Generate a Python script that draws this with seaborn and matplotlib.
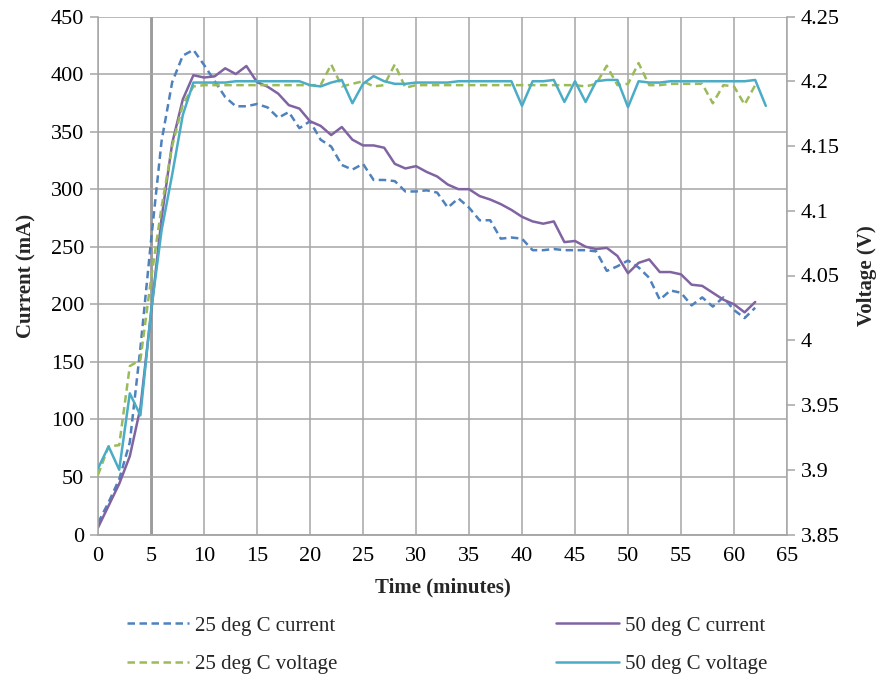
import matplotlib
matplotlib.use("Agg")
import matplotlib.pyplot as plt
import matplotlib.ticker as mticker
import seaborn as sns
import pandas as pd

sns.set_style("white")
plt.rcParams['font.family'] = ['Liberation Serif', 'DejaVu Serif']

# time in minutes (one reading per minute)
time_25 = list(range(0, 63))
time_50 = list(range(0, 63))
time_50v = list(range(0, 64))

# current (mA)
cur_25 = [10, 28, 48, 80, 162, 255, 342, 393, 416, 421,
          408, 394, 380, 372, 372, 374, 371, 362, 367, 353,
          359, 343, 337, 321, 317, 322, 308, 308, 307, 298,
          298, 299, 297, 284, 292, 284, 273, 273, 257, 258,
          257, 247, 247, 248, 247, 247, 247, 246, 229, 233,
          238, 232, 223, 204, 212, 210, 199, 206, 198, 206,
          195, 188, 197]
cur_50 = [6, 25, 44, 68, 110, 192, 275, 340, 378, 399,
          397, 398, 405, 400, 407, 393, 389, 383, 373, 370,
          359, 355, 347, 354, 343, 338, 338, 336, 322, 318,
          320, 315, 311, 304, 300, 300, 294, 291, 287, 282,
          276, 272, 270, 272, 254, 255, 250, 248, 249, 242,
          227, 236, 239, 228, 228, 226, 217, 216, 210, 204,
          200, 193, 202]

# voltage (V)
volt_25 = [3.896, 3.918, 3.919, 3.980, 3.985, 4.047, 4.103, 4.150, 4.182, 4.196,
           4.197, 4.197, 4.197, 4.197, 4.197, 4.197, 4.197, 4.197, 4.197, 4.197,
           4.197, 4.197, 4.213, 4.196, 4.198, 4.200, 4.196, 4.197, 4.213, 4.195,
           4.197, 4.197, 4.197, 4.197, 4.197, 4.197, 4.197, 4.197, 4.197, 4.197,
           4.197, 4.197, 4.197, 4.197, 4.197, 4.197, 4.196, 4.198, 4.212, 4.197,
           4.198, 4.214, 4.197, 4.197, 4.198, 4.198, 4.198, 4.198, 4.183, 4.197,
           4.196, 4.182, 4.197]
volt_50 = [3.901, 3.918, 3.900, 3.959, 3.942, 4.022, 4.085, 4.128, 4.174, 4.199,
           4.199, 4.199, 4.199, 4.200, 4.200, 4.200, 4.200, 4.200, 4.200, 4.200,
           4.197, 4.196, 4.199, 4.201, 4.183, 4.198, 4.204, 4.200, 4.198, 4.198,
           4.199, 4.199, 4.199, 4.199, 4.200, 4.200, 4.200, 4.200, 4.200, 4.200,
           4.181, 4.200, 4.200, 4.201, 4.184, 4.200, 4.184, 4.200, 4.201, 4.201,
           4.180, 4.200, 4.199, 4.199, 4.200, 4.200, 4.200, 4.200, 4.200, 4.200,
           4.200, 4.200, 4.201, 4.181]

c_blue = "#4F81BD"
c_purple = "#8064A2"
c_green = "#9BBB59"
c_cyan = "#4BACC6"
grid_c = "#A6A6A6"

fig = plt.figure(figsize=(8.76, 6.79), dpi=100)
ax = fig.add_axes([98 / 876, 1 - 534.5 / 679, (787 - 98) / 876, (534.5 - 16.5) / 679])
ax2 = ax.twinx()

# grid first so lines sit on top
ax.set_xlim(0, 65)
ax.set_ylim(0, 450)
ax.set_xticks(range(0, 66, 5))
ax.set_yticks(range(0, 451, 50))
ax.grid(True, color=grid_c, linewidth=1.1)
ax.set_axisbelow(True)
ax.axvline(5, color="#7F7F7F", linewidth=1.8, zorder=0.5)

df25 = pd.DataFrame({"t": time_25, "i": cur_25, "v": volt_25})
df50 = pd.DataFrame({"t": time_50, "i": cur_50})
df50v = pd.DataFrame({"t": time_50v, "v": volt_50})

sns.lineplot(data=df25, x="t", y="i", ax=ax, color=c_blue, linewidth=1.8,
             linestyle=(0, (3, 1.8)), label="25 deg C current", legend=False)
sns.lineplot(data=df50, x="t", y="i", ax=ax, color=c_purple, linewidth=1.8,
             label="50 deg C current", legend=False)
sns.lineplot(data=df25, x="t", y="v", ax=ax2, color=c_green, linewidth=1.8,
             linestyle=(0, (3, 1.8)), label="25 deg C voltage", legend=False)
sns.lineplot(data=df50v, x="t", y="v", ax=ax2, color=c_cyan, linewidth=1.8,
             label="50 deg C voltage", legend=False)

ax2.set_ylim(3.85, 4.25)
ax2.set_yticks([3.85, 3.9, 3.95, 4.0, 4.05, 4.1, 4.15, 4.2, 4.25])
ax2.yaxis.set_major_formatter(mticker.FormatStrFormatter('%g'))
ax2.grid(False)

for a in (ax, ax2):
    a.spines['top'].set_visible(False)
    for s in a.spines.values():
        s.set_color(grid_c)
        s.set_linewidth(1.1)
    a.tick_params(axis='both', direction='out', length=6, width=1.1,
                  color=grid_c, labelsize=16, labelcolor='black')
ax2.spines['left'].set_visible(False)
ax.spines['right'].set_visible(False)
ax.tick_params(axis='x', length=5, pad=4)
ax.tick_params(axis='y', pad=4)
ax2.tick_params(axis='y', pad=4)

ax.set_xlabel("Time (minutes)", fontsize=15, fontweight='bold', labelpad=8)
ax.set_ylabel("Current (mA)", fontsize=15, fontweight='bold', labelpad=10)
ax2.set_ylabel("Voltage (V)", fontsize=15, fontweight='bold', labelpad=12)

h1, l1 = ax.get_legend_handles_labels()
h2, l2 = ax2.get_legend_handles_labels()
handles = [h1[0], h2[0], h1[1], h2[1]]
labels = [l1[0], l2[0], l1[1], l2[1]]
fig.legend(handles, labels, ncol=2, loc='center',
           bbox_to_anchor=(447 / 876, 1 - 645 / 679), frameon=False,
           fontsize=15, handlelength=3.0, handletextpad=0.3,
           columnspacing=10.5, labelspacing=0.9)

fig.savefig("out.png", dpi=100)
